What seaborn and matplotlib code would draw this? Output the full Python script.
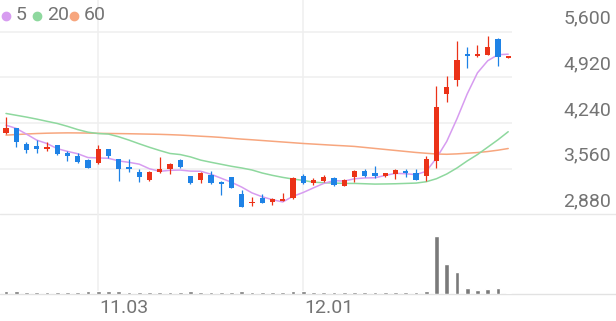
import numpy as np
import pandas as pd
import matplotlib
matplotlib.use("Agg")
import matplotlib.pyplot as plt
from matplotlib import transforms
import seaborn as sns

# ---------------- data ----------------
opens = [4093, 4168, 3925, 3895, 3850, 3905, 3795, 3750, 3687, 3637,
         3855, 3697, 3587, 3512, 3389, 3503, 3548, 3682, 3453, 3389,
         3463, 3354, 3429, 3175, 3042, 3116, 3056, 3080, 3116, 3456,
         3344, 3378, 3418, 3304, 3429, 3518, 3488, 3448, 3473, 3522,
         3498, 3453, 3676, 4666, 4879, 5261, 5240, 5251, 5489, 5215]
closes = [4160, 3950, 3836, 3846, 3880, 3776, 3746, 3661, 3563, 3855,
          3746, 3548, 3557, 3429, 3508, 3557, 3622, 3578, 3348, 3498,
          3339, 3324, 3274, 2991, 3065, 3050, 3106, 3106, 3414, 3351,
          3393, 3438, 3310, 3384, 3518, 3453, 3453, 3488, 3537, 3488,
          3389, 3697, 4472, 4779, 5177, 5240, 5266, 5375, 5226, 5220]
highs = [4323, 4170, 3955, 3985, 3960, 3915, 3825, 3786, 3700, 3910,
         3855, 3697, 3697, 3548, 3527, 3736, 3646, 3697, 3453, 3512,
         3527, 3378, 3438, 3240, 3140, 3176, 3116, 3190, 3429, 3478,
         3414, 3459, 3429, 3399, 3537, 3548, 3597, 3488, 3548, 3548,
         3548, 3746, 4789, 4943, 5460, 5375, 5395, 5534, 5499, 5220]
lows = [4074, 3876, 3795, 3795, 3825, 3760, 3676, 3637, 3563, 3622,
        3712, 3378, 3512, 3363, 3378, 3497, 3473, 3563, 3333, 3339,
        3324, 3165, 3265, 2991, 3001, 3042, 3016, 3076, 3106, 3329,
        3314, 3354, 3299, 3299, 3363, 3429, 3414, 3438, 3399, 3438,
        3389, 3378, 3563, 4555, 4789, 5052, 5217, 5251, 5082, 5215]
volumes = [230, 260, 200, 190, 170, 190, 180, 200, 210, 260,
           220, 240, 170, 190, 180, 200, 170, 180, 210, 190,
           200, 190, 180, 230, 180, 170, 160, 170, 240, 210,
           180, 190, 170, 180, 200, 180, 190, 170, 180, 170,
           190, 250, 5780, 3000, 2160, 560, 330, 430, 570, 60]
ma5 = [4208, 4159, 4074, 3985, 3934, 3858, 3817, 3782, 3725, 3720,
       3714, 3675, 3654, 3627, 3558, 3520, 3535, 3539, 3523, 3521,
       3477, 3417, 3357, 3285, 3199, 3141, 3097, 3064, 3148, 3205,
       3274, 3340, 3381, 3375, 3409, 3421, 3424, 3459, 3490, 3484,
       3471, 3520, 3717, 3965, 4303, 4673, 4987, 5167, 5257, 5265]
ma20 = [4382, 4355, 4328, 4298, 4265, 4233, 4190, 4142, 4103, 4083,
        4075, 4035, 3985, 3930, 3878, 3830, 3786, 3770, 3735, 3687,
        3655, 3625, 3595, 3570, 3540, 3495, 3460, 3430, 3405, 3385,
        3358, 3350, 3345, 3340, 3340, 3335, 3330, 3332, 3335, 3340,
        3345, 3365, 3410, 3480, 3570, 3675, 3770, 3880, 3990, 4110]
ma60 = [4059, 4068, 4076, 4083, 4088, 4091, 4093, 4092, 4090, 4086,
        4084, 4082, 4080, 4077, 4074, 4071, 4066, 4060, 4052, 4043,
        4035, 4025, 4012, 4000, 3990, 3979, 3968, 3957, 3946, 3935,
        3926, 3917, 3908, 3900, 3891, 3876, 3861, 3846, 3831, 3816,
        3801, 3789, 3778, 3774, 3780, 3790, 3800, 3815, 3835, 3860]
y_ticks = [2880, 3560, 4240, 4920, 5600]
x_tick_pos = [9, 29]
x_tick_labels = ["11.03", "12.01"]
legend_labels = ["5", "20", "60"]

# ---------------- styling ----------------
RED = "#EB3218"
BLUE = "#1E82E6"
C5, C20, C60 = "#D79CF0", "#8ED89E", "#F7A67E"
GRID = "#EFEFEF"
TXT = "#747474"
FONT = ["Roboto", "DejaVu Sans"]

sns.set_theme(style="white")
plt.rcParams["font.family"] = FONT

W, H = 616, 321
fig = plt.figure(figsize=(W / 100, H / 100), dpi=100)
fig.patch.set_facecolor("white")

price_bottom = 214.3
vol_bottom = 293.5
plot_right = 512
ax = fig.add_axes([0, 1 - price_bottom / H, plot_right / W, price_bottom / H])
axv = fig.add_axes([0, 1 - vol_bottom / H, plot_right / W,
                    (vol_bottom - price_bottom) / H])

df = pd.DataFrame({"i": np.arange(len(closes)), "open": opens, "close": closes,
                   "high": highs, "low": lows, "vol": volumes,
                   "ma5": ma5, "ma20": ma20, "ma60": ma60})

xlo, xhi = -0.585, 49.37
ymin, ymax = 2880, 6072
for a in (ax, axv):
    a.set_xlim(xlo, xhi)
    a.set_axis_off()
ax.set_ylim(ymin, ymax)
axv.set_ylim(0, 7920)

# grid lines
for t in y_ticks[1:]:
    ax.axhline(t, color=GRID, lw=1.1, zorder=0)
for p in x_tick_pos:
    ax.axvline(p, color=GRID, lw=1.1, zorder=0)
    axv.axvline(p, color=GRID, lw=1.1, zorder=0)

# moving averages (seaborn)
for col, c in (("ma60", C60), ("ma20", C20), ("ma5", C5)):
    sns.lineplot(data=df, x="i", y=col, ax=ax, color=c, lw=1.1,
                 legend=False, zorder=2)
ax.set_xlim(xlo, xhi)
ax.set_ylim(ymin, ymax)
ax.set_axis_off()

# candles
colors = [RED if c >= o else BLUE for o, c in zip(opens, closes)]
min_body = 1.6 * (ymax - ymin) / price_bottom
bottoms = [min(o, c) for o, c in zip(opens, closes)]
heights = [max(abs(c - o), min_body) for o, c in zip(opens, closes)]
ax.vlines(df["i"], df["low"], df["high"], colors=colors, lw=0.9, zorder=3)
ax.bar(df["i"], heights, bottom=bottoms, width=0.5, color=colors,
       linewidth=0, zorder=4)

# panel separators spanning full width
for yy, col in ((price_bottom, "#E8E8E8"), (vol_bottom, "#E2E2E2")):
    fig.add_artist(plt.Line2D([0, 1], [1 - yy / H, 1 - yy / H],
                              transform=fig.transFigure, color=col, lw=1.0,
                              zorder=0))

# volume (seaborn)
sns.barplot(data=df, x="i", y="vol", ax=axv, native_scale=True,
            color="#7A7A7A", saturation=1, width=0.45, zorder=3)
axv.set_xlim(xlo, xhi)
axv.set_ylim(0, 7920)
axv.set_axis_off()

# y labels (right side, above their grid lines)
trans = transforms.blended_transform_factory(fig.transFigure, ax.transData)
trans = transforms.offset_copy(trans, fig=fig, x=0, y=4, units="dots")
for t in y_ticks:
    fig.text(611 / W, t, f"{t:,}", transform=trans, ha="right", va="bottom",
             fontsize=14, color=TXT, family=FONT)

# x labels
for p, lab in zip(x_tick_pos, x_tick_labels):
    xf = (p - xlo) / (xhi - xlo) * plot_right / W
    fig.text(xf + 1 / W, 1 - 308 / H, lab, ha="left", va="center",
             fontsize=14, color=TXT, family=FONT)

# legend
for (xd, xt), c, lab in zip(((6, 16), (37, 47), (74, 84)), (C5, C20, C60),
                            legend_labels):
    fig.add_artist(plt.Line2D([xd / W], [1 - 15.5 / H], marker="o",
                              markersize=6, color=c, linestyle="none",
                              transform=fig.transFigure))
    fig.text(xt / W, 1 - 15.5 / H, lab, ha="left", va="center",
             fontsize=14, color=TXT, family=FONT)

fig.savefig("out.png", dpi=100, facecolor="white")
